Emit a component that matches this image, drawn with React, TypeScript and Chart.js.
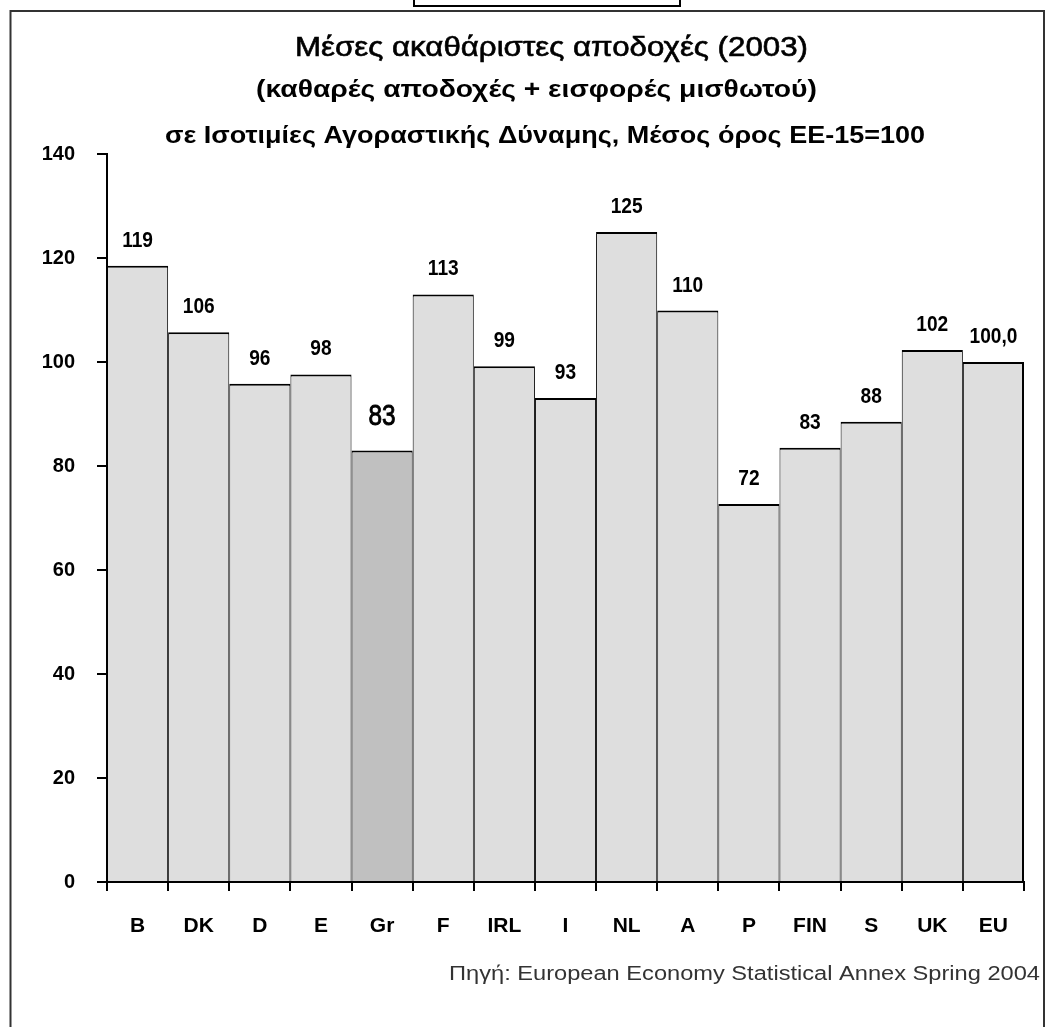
import React, { useEffect, useRef } from "react";
import { Chart, registerables } from "chart.js";

Chart.register(...registerables);

// ---- data ----
const categories = ["B", "DK", "D", "E", "Gr", "F", "IRL", "I", "NL", "A", "P", "FIN", "S", "UK", "EU"];
const values = [118.5, 105.7, 95.8, 97.6, 83.0, 113.0, 99.2, 93.1, 125.0, 109.9, 72.7, 83.5, 88.5, 102.3, 100.0];
const valueLabels = ["119", "106", "96", "98", "83", "113", "99", "93", "125", "110", "72", "83", "88", "102", "100,0"];
const highlightCategory = "Gr";
const yMin = 0;
const yMax = 140;
const yStep = 20;
const titleLines = [
  "Μέσες ακαθάριστες αποδοχές (2003)",
  "(καθαρές αποδοχές + εισφορές μισθωτού)",
  "σε Ισοτιμίες Αγοραστικής Δύναμης, Μέσος όρος ΕΕ-15=100",
];
const sourceText = "Πηγή: European Economy Statistical Annex Spring 2004";

// ---- styles ----
const FONT = "'Liberation Sans', Arial, Helvetica, sans-serif";
const W = 1046;
const H = 1027;
const BAR_FILL = "#dedede";
const BAR_HIGHLIGHT = "#c0c0c0";

const titleStyles = [
  { font: `normal 27px ${FONT}`, cx: 551.5, y: 55.5, w: 513, stroke: 0.6 },
  { font: `bold 23px ${FONT}`, cx: 536.5, y: 97, w: 561, stroke: 0 },
  { font: `bold 24px ${FONT}`, cx: 545, y: 142.5, w: 760, stroke: 0 },
];

function drawScaledText(
  ctx: CanvasRenderingContext2D,
  text: string,
  x: number,
  y: number,
  font: string,
  align: CanvasTextAlign,
  sx: number | null,
  targetW: number | null,
  color: string,
  stroke = 0
) {
  ctx.save();
  ctx.font = font;
  ctx.fillStyle = color;
  ctx.strokeStyle = color;
  ctx.textAlign = align;
  ctx.textBaseline = "alphabetic";
  let scale = sx ?? 1;
  if (targetW) {
    const m = ctx.measureText(text).width;
    if (m > 0) scale = targetW / m;
  }
  ctx.translate(x, y);
  ctx.scale(scale, 1);
  ctx.fillText(text, 0, 0);
  if (stroke > 0) {
    ctx.lineWidth = stroke;
    ctx.strokeText(text, 0, 0);
  }
  ctx.restore();
}

const decorPlugin = {
  id: "decor",
  beforeDraw(chart: any) {
    const ctx: CanvasRenderingContext2D = chart.ctx;
    ctx.save();
    ctx.fillStyle = "#ffffff";
    ctx.fillRect(0, 0, W, H);
    // outer frame
    ctx.strokeStyle = "#333333";
    ctx.lineWidth = 2;
    ctx.beginPath();
    ctx.moveTo(10.5, H + 2);
    ctx.lineTo(10.5, 11);
    ctx.lineTo(1044, 11);
    ctx.lineTo(1044, H + 2);
    ctx.stroke();
    // small box at top
    ctx.strokeStyle = "#000000";
    ctx.lineWidth = 2;
    ctx.strokeRect(414, -2, 266, 8);
    ctx.restore();
  },
  afterDraw(chart: any) {
    const ctx: CanvasRenderingContext2D = chart.ctx;
    // titles
    titleLines.forEach((t, i) => {
      const s = titleStyles[i];
      drawScaledText(ctx, t, s.cx, s.y, s.font, "center", null, s.w, "#000", s.stroke);
    });
    // value labels
    const meta = chart.getDatasetMeta(0);
    meta.data.forEach((el: any, i: number) => {
      const isHi = categories[i] === highlightCategory;
      const font = isHi ? `normal 29px ${FONT}` : `bold 22px ${FONT}`;
      const off = isHi ? 25 : 19;
      drawScaledText(ctx, valueLabels[i], el.x, el.y - off, font, "center", isHi ? 0.84 : 0.87, null, "#000", isHi ? 0.9 : 0);
    });
    // source
    drawScaledText(ctx, sourceText, 1040, 979.5, `normal 20px ${FONT}`, "right", null, 591, "#333");
  },
};

export default function App() {
  const ref = useRef<HTMLCanvasElement | null>(null);

  useEffect(() => {
    if (!ref.current) return;
    const last = categories.length - 1;
    const chart = new Chart(ref.current, {
      type: "bar",
      data: {
        labels: categories,
        datasets: [
          {
            data: values,
            backgroundColor: categories.map((c) => (c === highlightCategory ? BAR_HIGHLIGHT : BAR_FILL)),
            borderColor: "#000000",
            borderWidth: (c: any) => ({ top: 2, left: 1, right: c.dataIndex === last ? 2 : 1, bottom: 0 }),
            borderSkipped: "start",
            barPercentage: 1,
            categoryPercentage: 1,
            inflateAmount: 0,
          } as any,
        ],
      },
      options: {
        responsive: false,
        animation: false,
        devicePixelRatio: 1,
        layout: { padding: { top: 154, right: 22, left: 0, bottom: 0 } },
        plugins: {
          legend: { display: false },
          title: { display: false },
          tooltip: { enabled: false },
        },
        scales: {
          x: {
            grid: { offset: true, drawOnChartArea: false, drawTicks: true, tickLength: 9, color: "#000", lineWidth: 2 },
            border: { display: true, color: "#000", width: 2 },
            ticks: {
              color: "#000",
              font: { family: FONT, size: 21, weight: "bold" },
              padding: 23,
              maxRotation: 0,
              autoSkip: false,
            },
            afterFit: (s: any) => {
              s.height = 145;
            },
          },
          y: {
            min: yMin,
            max: yMax,
            grid: { drawOnChartArea: false, drawTicks: true, tickLength: 10, color: "#000", lineWidth: 2 },
            border: { display: true, color: "#000", width: 2 },
            ticks: {
              stepSize: yStep,
              color: "#000",
              font: { family: FONT, size: 20, weight: "bold" },
              padding: 22,
            },
            afterFit: (s: any) => {
              s.width = 107;
            },
          },
        } as any,
      },
      plugins: [decorPlugin],
    });
    return () => chart.destroy();
  }, []);

  return (
    <div style={{ position: "absolute", left: 0, top: 0, width: W, height: H, overflow: "hidden", background: "#fff" }}>
      <canvas ref={ref} width={W} height={H} style={{ display: "block", width: W, height: H }} />
    </div>
  );
}
